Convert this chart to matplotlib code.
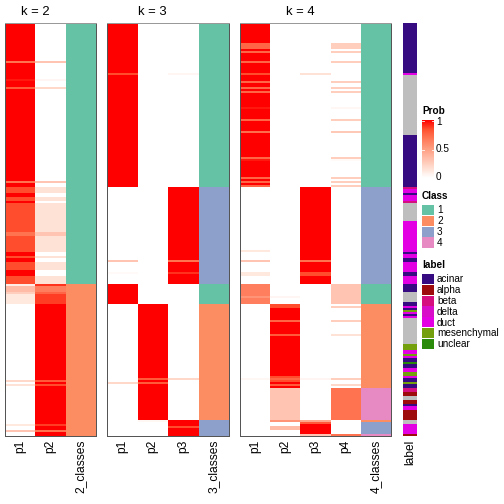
import numpy as np
import matplotlib
matplotlib.use('Agg')
import matplotlib.pyplot as plt
from matplotlib.colors import LinearSegmentedColormap, ListedColormap
from matplotlib.patches import Rectangle

plt.rcParams['font.family'] = ['Liberation Sans', 'DejaVu Sans']

# run-length data: (number of rows, value), top to bottom
k2_p1 = [(19, 1), (1, .7), (8, 1), (1, .95), (3, 1), (1, .8), (46, 1), (1, .7), (2, 1),
         (3, .85), (2, 1), (2, .85), (1, 1), (14, .85), (2, .7), (8, .85), (2, 1), (1, .85),
         (2, 1), (4, .85), (3, 1), (4, .85), (1, .1), (3, .35), (1, .25), (5, .12), (38, 0),
         (1, .2), (1, 0), (1, .15), (19, 0), (1, .12), (2, 0), (1, .3), (2, 0)]
k2_cls = [(130, 1), (76, 2)]

k3_p1 = [(25, 1), (1, .85), (56, 1), (36, 0), (1, .3), (5, 0), (1, .03), (5, 0), (10, 1),
         (39, 0), (1, .2), (26, 0)]
k3_p2 = [(140, 0), (37, 1), (1, .8), (1, 1), (1, .8), (18, 1), (1, .04), (7, 0)]
k3_p3 = [(25, 0), (1, .05), (56, 0), (36, 1), (1, .7), (5, 1), (1, .9), (5, 1), (10, 0),
         (37, 0), (1, .2), (20, 0), (3, 1), (1, .85), (4, 1)]
k3_cls = [(82, 1), (48, 3), (10, 1), (58, 2), (8, 3)]

k4_p1 = [(10, 1), (3, .75), (1, 1), (1, .75), (4, 1), (1, .75), (5, 1), (1, .85), (3, 1),
         (1, .75), (2, 1), (1, .75), (1, 1), (1, .75), (7, 1), (1, .95), (5, 1), (1, .75),
         (5, 1), (1, .72), (12, 1), (1, .75), (1, .95), (8, 1), (1, .75), (1, 1), (1, .75),
         (1, 1), (1, .75),
         (31, 0), (1, .12), (4, 0), (1, .3), (5, 0), (2, .12), (4, 0),
         (6, .65), (1, .55), (3, .65),
         (37, 0), (1, .04), (28, 0)]
k4_p2 = [(136, 0), (1, .05), (3, 0), (2, .85), (6, 1), (1, .75), (6, 1), (1, .8), (20, 1),
         (1, .85), (1, .75), (1, .85), (1, 1), (1, .8), (1, 1), (16, .3), (1, .55), (2, 0),
         (2, .35), (3, 0)]
k4_p3 = [(25, 0), (1, .15), (56, 0), (36, 1), (1, .7), (5, 1), (2, .85), (4, 1), (47, 0),
         (1, .05), (20, 0), (1, .45), (1, .8), (5, 1), (1, .3)]
k4_p4 = [(10, 0), (3, .25), (1, 0), (1, .25), (4, 0), (1, .25), (9, 0), (1, .25), (2, 0),
         (1, .25), (1, 0), (1, .25), (7, 0), (1, .04), (5, 0), (1, .25), (5, 0), (1, .28),
         (12, 0), (1, .25), (1, .03), (8, 0), (1, .25), (1, 0), (1, .25), (1, 0), (1, .25),
         (48, 0), (10, .3),
         (1, 0), (1, .25), (6, 0), (1, .25), (6, 0), (1, .15), (21, 0), (1, .25), (2, 0),
         (1, .2), (1, 0), (16, .7), (7, 0), (1, .7)]
k4_cls = [(82, 1), (48, 3), (10, 1), (42, 2), (16, 4), (1, 2), (6, 3), (1, 4)]

label_runs = [(25, 'acinar'), (1, 'duct'), (30, 'NA'), (26, 'acinar'), (1, 'beta'), (2, 'duct'),
              (1, 'acinar'), (3, 'duct'), (1, 'beta'), (9, 'NA'), (15, 'duct'), (1, 'acinar'),
              (2, 'duct'), (2, 'acinar'), (5, 'duct'), (2, 'acinar'), (4, 'duct'), (4, 'acinar'),
              (5, 'NA'), (2, 'acinar'), (1, 'duct'), (1, 'acinar'), (1, 'mesenchymal'),
              (1, 'duct'), (1, 'acinar'), (1, 'duct'), (13, 'NA'), (3, 'mesenchymal'),
              (2, 'duct'), (1, 'mesenchymal'), (1, 'duct'), (2, 'acinar'), (1, 'unclear'),
              (2, 'acinar'), (2, 'duct'), (2, 'mesenchymal'), (1, 'duct'), (2, 'acinar'),
              (1, 'mesenchymal'), (2, 'acinar'), (2, 'beta'), (2, 'alpha'), (2, 'NA'),
              (2, 'alpha'), (1, 'acinar'), (2, 'duct'), (5, 'alpha'), (2, 'NA'), (5, 'duct'),
              (1, 'alpha')]

label_names = ['acinar', 'alpha', 'beta', 'delta', 'duct', 'mesenchymal', 'unclear']
label_colors = ['#360A80', '#9E0B0B', '#D60F7E', '#D80DC8', '#E300E3', '#74A00E', '#2A8A0A']
class_names = ['1', '2', '3', '4']
class_colors = ['#66C2A5', '#FC8D62', '#8DA0CB', '#E78AC3']

prob_cmap = LinearSegmentedColormap.from_list(
    'prob', [(0, '#FFFFFF'), (.15, '#FFE2D6'), (.3, '#FFC5B2'), (.5, '#FF9F82'),
             (.7, '#FF7452'), (.85, '#FF4E2E'), (1, '#FF0000')])
class_cmap = ListedColormap(class_colors)


def expand(runs):
    return np.concatenate([np.full(n, v) for n, v in runs])


W = H = 504
fig = plt.figure(figsize=(7, 7), dpi=72)


def px_axes(x0, y0, x1, y1):
    return fig.add_axes([x0 / W, 1 - y1 / H, (x1 - x0) / W, (y1 - y0) / H])


TOP, BOT = 23, 436


def draw_panel(x0, x1, probs, cls, title):
    ax = px_axes(x0, TOP, x1, BOT)
    n = len(cls)
    m = len(probs)
    for j, p in enumerate(probs):
        ax.imshow(p[:, None].astype(float), cmap=prob_cmap, vmin=0, vmax=1,
                  extent=[j, j + 1, n, 0], aspect='auto', interpolation='nearest')
    ax.imshow(cls[:, None].astype(float) - 1, cmap=class_cmap, vmin=-0.5, vmax=3.5,
              extent=[m, m + 1, n, 0], aspect='auto', interpolation='nearest')
    ax.set_xlim(0, m + 1)
    ax.set_ylim(n, 0)
    ax.set_xticks([])
    ax.set_yticks([])
    for s in ax.spines.values():
        s.set_color('#555555')
        s.set_linewidth(1)
    ax.spines['top'].set_color('#999999')
    names = ['p%d' % (j + 1) for j in range(m)] + ['%d_classes' % m]
    for j, name in enumerate(names):
        ax.annotate(name, xy=(j + 0.5, 0), xycoords=('data', 'axes fraction'),
                    xytext=(0, -4), textcoords='offset points', rotation=90,
                    ha='center', va='top', fontsize=12)
    ax.annotate(title, xy=(m / 2, 1), xycoords=('data', 'axes fraction'),
                xytext=(0, 5), textcoords='offset points', ha='center', va='bottom',
                fontsize=13)
    return ax


p2_1 = expand(k2_p1)
draw_panel(5, 96, [p2_1, 1 - p2_1], expand(k2_cls), 'k = 2')
draw_panel(107, 229, [expand(k3_p1), expand(k3_p2), expand(k3_p3)], expand(k3_cls), 'k = 3')
draw_panel(240, 391, [expand(k4_p1), expand(k4_p2), expand(k4_p3), expand(k4_p4)],
           expand(k4_cls), 'k = 4')

# label annotation column
lab_color_map = dict(zip(label_names, label_colors))
lab_color_map['NA'] = '#BEBEBE'
axl = px_axes(403, TOP, 417, BOT)
y = 0
for n, name in label_runs:
    axl.add_patch(Rectangle((0, y), 1, n, color=lab_color_map[name], lw=0))
    y += n
axl.set_xlim(0, 1)
axl.set_ylim(y, 0)
axl.axis('off')
axl.annotate('label', xy=(0.5, 0), xycoords='axes fraction', xytext=(0, -4),
             textcoords='offset points', rotation=90, ha='center', va='top', fontsize=12)

# legends drawn in pixel coordinates
lg = fig.add_axes([0, 0, 1, 1])
lg.set_xlim(0, W)
lg.set_ylim(H, 0)
lg.axis('off')

lg.text(422, 111, 'Prob', fontsize=10, fontweight='bold', va='center', ha='left')
grad = np.linspace(1, 0, 100)[:, None]
lg.imshow(grad, cmap=prob_cmap, vmin=0, vmax=1, extent=[422, 434, 178, 120],
          aspect='auto', interpolation='bilinear')
for yy in [121, 149.5]:
    lg.plot([422, 424], [yy, yy], color='white', lw=0.8)
    lg.plot([432, 434], [yy, yy], color='white', lw=0.8)
for yy, t in [(122, '1'), (149.5, '0.5'), (177, '0')]:
    lg.text(436, yy, t, fontsize=10, va='center', ha='left')

lg.text(422, 196, 'Class', fontsize=10, fontweight='bold', va='center', ha='left')
for i, (c, t) in enumerate(zip(class_colors, class_names)):
    y0 = 205 + i * 10.8
    lg.add_patch(Rectangle((422, y0), 12, 10.2, color=c, lw=0))
    lg.text(437, y0 + 5.3, t, fontsize=10, va='center', ha='left')

lg.text(422, 265, 'label', fontsize=10, fontweight='bold', va='center', ha='left')
for i, (c, t) in enumerate(zip(label_colors, label_names)):
    y0 = 274 + i * 10.8
    lg.add_patch(Rectangle((422, y0), 12, 10.2, color=c, lw=0))
    lg.text(437, y0 + 5.3, t, fontsize=10, va='center', ha='left')

fig.savefig('out.png', dpi=72)
